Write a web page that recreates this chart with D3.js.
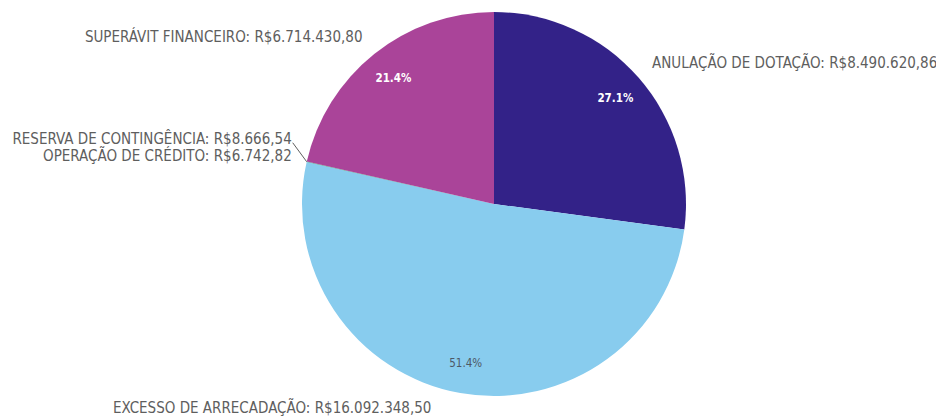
<!DOCTYPE html>
<html>
<head>
<meta charset="utf-8">
<script src="https://cdn.jsdelivr.net/npm/d3@7"></script>
<style>
  html, body { margin: 0; padding: 0; background: #fff; }
  svg { display: block; }
  text { font-family: "DejaVu Sans Condensed", "Liberation Sans Narrow", "Roboto", sans-serif; }
</style>
</head>
<body>
<svg id="chart" width="936" height="417"></svg>
<script>
// Fontes de suplementação orçamentária
const categories = [
  "ANULAÇÃO DE DOTAÇÃO",
  "EXCESSO DE ARRECADAÇÃO",
  "RESERVA DE CONTINGÊNCIA",
  "OPERAÇÃO DE CRÉDITO",
  "SUPERÁVIT FINANCEIRO"
];
const values = [8490620.86, 16092348.50, 8666.54, 6742.82, 6714430.80];
const colors = ["#332288", "#88ccee", "#44aa99", "#117733", "#aa4499"];
const pctTextColors = ["#ffffff", "#4d5866", "#ffffff", "#ffffff", "#ffffff"];

const W = 936, H = 417;
const cx = 494, cy = 204, R = 192;

const svg = d3.select("#chart");
const g = svg.append("g").attr("transform", `translate(${cx},${cy})`);

const data = categories.map((c, i) => ({ name: c, value: values[i], color: colors[i], pctColor: pctTextColors[i] }));
const total = d3.sum(values);

const pie = d3.pie().value(d => d.value).sort(null);
const arcs = pie(data);
const arc = d3.arc().innerRadius(0).outerRadius(R);

g.selectAll("path.slice")
  .data(arcs)
  .join("path")
  .attr("class", "slice")
  .attr("d", arc)
  .attr("fill", d => d.data.color);

const moneyFmt = v => "R$" + d3.format(",.2f")(v).replace(/,/g, "#").replace(".", ",").replace(/#/g, ".");
const pctFmt = v => d3.format(".1f")(v * 100) + "%";

// percentage labels inside the larger slices
const inner = d3.arc().innerRadius(R * 0.84).outerRadius(R * 0.84);
g.selectAll("text.pct")
  .data(arcs.filter(d => d.data.value / total > 0.05))
  .join("text")
  .attr("class", "pct")
  .attr("x", d => inner.centroid(d)[0])
  .attr("y", d => inner.centroid(d)[1])
  .attr("text-anchor", "middle")
  .attr("dominant-baseline", "central")
  .attr("font-size", 11.5)
  .attr("font-weight", d => d.data.pctColor === "#ffffff" ? "bold" : "normal")
  .attr("fill", d => d.data.pctColor)
  .text(d => pctFmt(d.data.value / total));

// outside labels for the larger slices, kept inside the drawing area
const labelR = R + 22;
const big = arcs.filter(d => d.data.value / total > 0.05);
big.forEach(d => {
  const a = (d.startAngle + d.endAngle) / 2;
  let x = labelR * Math.sin(a);
  let y = -labelR * Math.cos(a);
  const yMax = H - 9 - cy, yMin = 12 - cy;
  if (y > yMax || y < yMin) {
    y = Math.max(yMin, Math.min(yMax, y));
    const dx = Math.sqrt(Math.max(0, labelR * labelR - y * y));
    x = x < 0 ? -dx : dx;
  }
  g.append("text")
    .attr("x", x < 0 ? x + 2 : x - 3)
    .attr("y", y)
    .attr("text-anchor", x < 0 ? "end" : "start")
    .attr("dominant-baseline", "central")
    .attr("font-size", 15)
    .attr("fill", "#5e5e5e")
    .text(`${d.data.name}: ${moneyFmt(d.data.value)}`);
});

// the tiny slices share one leader line and a stacked label block
const small = arcs.filter(d => d.data.value / total <= 0.05);
if (small.length) {
  const a = (small[0].startAngle + small[small.length - 1].endAngle) / 2;
  const px = R * Math.sin(a), py = -R * Math.cos(a);
  const ex = px - 14, ey = py - 19;
  g.append("line")
    .attr("x1", px).attr("y1", py)
    .attr("x2", ex).attr("y2", ey)
    .attr("stroke", "#5e5e5e")
    .attr("stroke-width", 1);
  small.forEach((d, i) => {
    g.append("text")
      .attr("x", ex - 1)
      .attr("y", py - 23 + i * 17)
      .attr("text-anchor", "end")
      .attr("dominant-baseline", "central")
      .attr("font-size", 15)
      .attr("fill", "#5e5e5e")
      .text(`${d.data.name}: ${moneyFmt(d.data.value)}`);
  });
}
</script>
</body>
</html>
